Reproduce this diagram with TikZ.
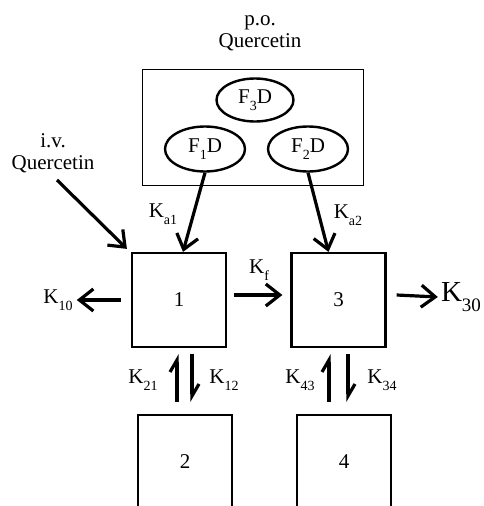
\documentclass[tikz,border=0pt]{standalone}
\usepackage{fontspec}
\setmainfont{Liberation Serif}
\usetikzlibrary{arrows.meta,shapes.geometric,calc}
\newcommand\sbs[1]{\raisebox{-0.35em}{\fontsize{14}{14}\selectfont #1}}
\newcommand\bsbs[1]{\raisebox{-0.35em}{\fontsize{19}{19}\selectfont #1}}
\tikzset{
  txt/.style={font=\fontsize{21}{24}\selectfont, inner sep=0pt, align=center},
  comp/.style={draw, line width=2.2pt, minimum width=94pt, minimum height=94pt, inner sep=0pt, font=\fontsize{21}{24}\selectfont},
  dose/.style={draw, ellipse, line width=2.4pt, inner sep=0pt, font=\fontsize{21}{24}\selectfont},
  flow/.style={line width=3.2pt, -{Straight Barb[length=14pt,width=22pt]}},
  hflow/.style={line width=3.2pt, -{Straight Barb[left,length=12pt,width=14pt]}},
}
\begin{document}
\begin{tikzpicture}[x=1pt,y=-1pt]
\clip (0,0) rectangle (484,506);
\fill[white] (0,0) rectangle (484,506);
% oral dose block
\node[txt] (po) at (260,33) {p.o.\\[-2pt]Quercetin};
\node[draw, line width=1pt, minimum width=221pt, minimum height=116pt, inner sep=0pt] (gut) at (252.5,127) {};
\node[dose, minimum width=77pt, minimum height=43pt] (f3) at (255,100) {F\sbs{3}D};
\node[dose, minimum width=80pt, minimum height=45pt] (f1) at (205,149) {F\sbs{1}D};
\node[dose, minimum width=80pt, minimum height=45pt] (f2) at (308,149) {F\sbs{2}D};
% iv
\node[txt] (iv) at (53,153) {i.v.\\[-2pt]Quercetin};
% compartments
\node[comp] (c1) at (179,300) {1};
\node[comp] (c3) at (338.5,300) {3};
\node[comp] (c2) at (185,462) {2};
\node[comp] (c4) at (344,462) {4};
% labels
\node[txt] (k10) at (58,300) {K\sbs{10}};
\node[txt] (k30) at (461,297) {\fontsize{29}{30}\selectfont K\bsbs{30}};
\node[txt] (kf) at (259,270) {K\sbs{f}};
\node[txt] (ka1) at (163,214) {K\sbs{a1}};
\node[txt] (ka2) at (348,215) {K\sbs{a2}};
\node[txt] (k21) at (143,380) {K\sbs{21}};
\node[txt] (k12) at (224,380) {K\sbs{12}};
\node[txt] (k43) at (300,380) {K\sbs{43}};
\node[txt] (k34) at (382,380) {K\sbs{34}};
% connectors
\coordinate (ivs) at (57,180);
\draw[flow] (ivs) -- ([shift={(-4,-3)}]c1.north west);
\draw[flow] (f1.south) -- ([xshift=4pt]c1.north);
\draw[flow] (f2.south) -- ([xshift=-10pt]c3.north);
\draw[flow] ([xshift=-10pt]c1.west) -- ([xshift=4pt]k10.east);
\draw[flow] ([shift={(7,-5)}]c1.east) -- ([shift={(-8,-5)}]c3.west);
\draw[flow] ([shift={(10,-5)}]c3.east) -- ([xshift=-3pt]k30.west);
\draw[hflow] ([shift={(-8,-12)}]c2.north) -- ([shift={(-2,6)}]c1.south);
\draw[hflow] ([shift={(13,6)}]c1.south) -- ([shift={(7,-12)}]c2.north);
\draw[hflow] ([shift={(-15,-12)}]c4.north) -- ([shift={(-9.5,6)}]c3.south);
\draw[hflow] ([shift={(9.5,6)}]c3.south) -- ([shift={(4,-12)}]c4.north);
\end{tikzpicture}
\end{document}
